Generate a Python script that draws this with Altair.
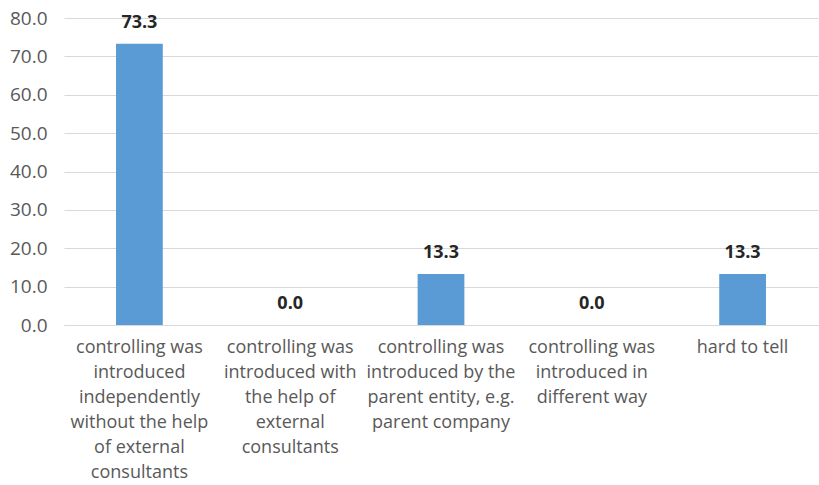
import altair as alt
import pandas as pd

categories = [
    "controlling was|introduced|independently|without the help|of external|consultants",
    "controlling was|introduced with|the help of|external|consultants",
    "controlling was|introduced by the|parent entity, e.g.|parent company",
    "controlling was|introduced in|different way",
    "hard to tell",
]
values = [73.3, 0.0, 13.3, 0.0, 13.3]
y_ticks = [0, 10, 20, 30, 40, 50, 60, 70, 80]

df = pd.DataFrame({"cat": categories, "val": values})

FONT = "Open Sans"

x = alt.X(
    "cat:N",
    sort=categories,
    title=None,
    scale=alt.Scale(paddingInner=0.69, paddingOuter=0.345),
    axis=alt.Axis(
        labelAngle=0,
        labelExpr="split(datum.label, '|')",
        labelFontSize=18,
        labelFont=FONT,
        labelColor="#595959",
        labelLineHeight=25,
        labelPadding=13,
        ticks=False,
        domainColor="#d9d9d9",
        domainWidth=1,
        grid=False,
        labelLimit=200,
    ),
)

y = alt.Y(
    "val:Q",
    title=None,
    scale=alt.Scale(domain=[0, 80]),
    axis=alt.Axis(
        values=y_ticks,
        format=".1f",
        labelFontSize=19,
        labelFont=FONT,
        labelColor="#595959",
        labelPadding=17,
        labelOverlap=False,
        ticks=False,
        domain=False,
        gridColor="#d9d9d9",
        gridWidth=1,
    ),
)

base = alt.Chart(df).encode(x=x, y=y)

bars = base.mark_bar(color="#5b9bd5")

text = base.mark_text(
    fontSize=18, fontWeight="bold", font=FONT, color="#262626", baseline="bottom", dy=-12
).encode(text=alt.Text("val:Q", format=".1f"))

chart = (
    alt.layer(bars, text)
    .properties(
        width=754,
        height=307,
        padding={"left": 64, "top": 18, "right": 1, "bottom": 160},
        autosize=alt.AutoSizeParams(type="none"),
        background="white",
    )
    .configure_view(stroke=None)
)

chart.save("out.html", embed_options={"renderer": "svg", "actions": False})
